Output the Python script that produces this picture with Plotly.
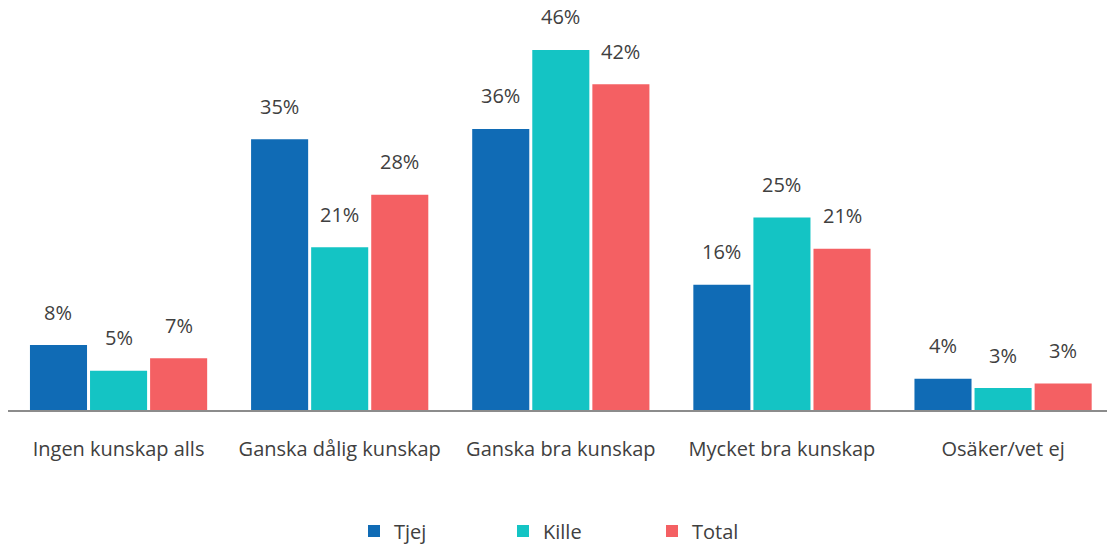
import plotly.graph_objects as go

categories = ["Ingen kunskap alls", "Ganska dålig kunskap", "Ganska bra kunskap",
              "Mycket bra kunskap", "Osäker/vet ej"]
series_names = ["Tjej", "Kille", "Total"]
tjej = [8.3, 34.6, 35.9, 16.0, 4.0]
kille = [5.0, 20.8, 46.0, 24.6, 2.8]
total = [6.6, 27.5, 41.6, 20.6, 3.4]
colors = ["#106BB5", "#14C4C4", "#F46063"]

series = [tjej, kille, total]
FONT = "Open Sans"
TXT = "#404040"

W, H = 1107, 546
ML = 8
fig = go.Figure()
for name, vals, col in zip(series_names, series, colors):
    fig.add_trace(go.Bar(
        name=name, x=categories, y=vals,
        marker=dict(color=col, line=dict(width=0)),
        hoverinfo="skip",
    ))

# labels above bars
x_range = [-0.5, 4.47]
step_px = (W - ML) / (x_range[1] - x_range[0])
bargap = 0.185
slot = step_px * (1 - bargap) / 3
for i, vals in enumerate(series):
    off = (i - 1) * slot
    for c, v in zip(categories, vals):
        fig.add_annotation(
            x=c, y=v, xref="x", yref="y", text=f"{round(v):d}%",
            showarrow=False, xshift=off, yshift=33, yanchor="middle",
            font=dict(family=FONT, size=20, color=TXT),
        )

fig.update_layout(
    width=W, height=H,
    margin=dict(l=ML, r=0, t=10, b=136),
    paper_bgcolor="white", plot_bgcolor="white",
    barmode="group", bargap=bargap, bargroupgap=0.05,
    font=dict(family=FONT, size=20, color=TXT),
    showlegend=True,
    legend=dict(
        orientation="h", x=0.5 + 20 / (W - ML), xanchor="center",
        yref="container", y=15 / H, yanchor="middle",
        font=dict(family=FONT, size=20, color=TXT),
        entrywidth=104, entrywidthmode="pixels",
        bgcolor="rgba(0,0,0,0)",
    ),
    xaxis=dict(
        showline=True, linecolor="#8C8C8C", linewidth=2,
        ticks="outside", ticklen=20, tickcolor="rgba(0,0,0,0)",
        tickfont=dict(family=FONT, size=20, color=TXT),
        showgrid=False, range=x_range, fixedrange=True,
    ),
    yaxis=dict(
        range=[0, 51.1], visible=False, showgrid=False, zeroline=False,
        fixedrange=True,
    ),
)

fig.write_html(
    "out.html",
    config={"displayModeBar": False, "staticPlot": True},
    post_script="document.body.style.margin='0';document.body.style.overflow='hidden';",
)
